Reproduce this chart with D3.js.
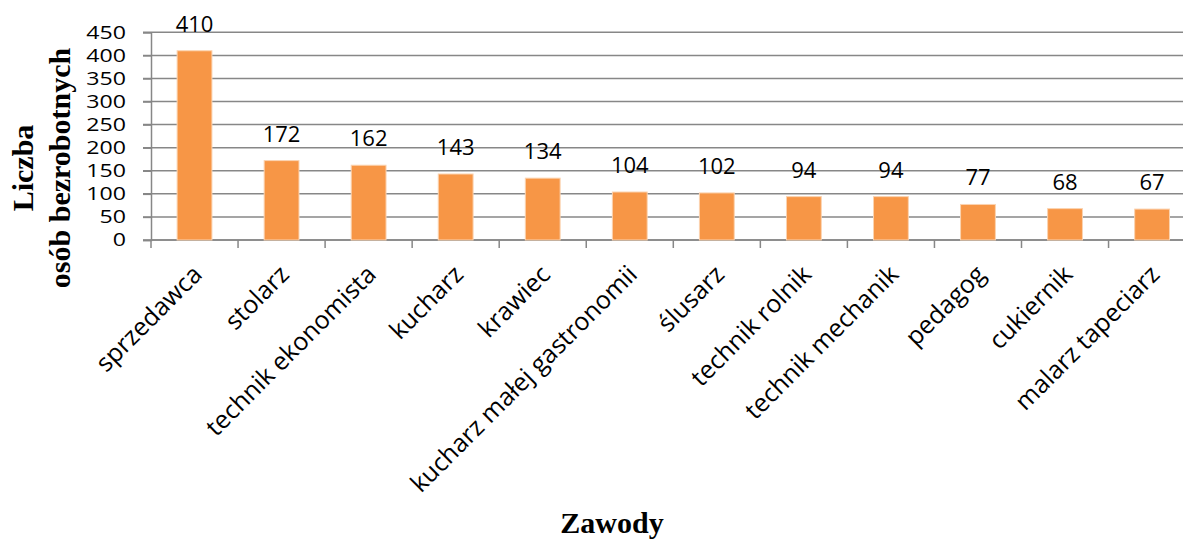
<!DOCTYPE html>
<html>
<head>
<meta charset="utf-8">
<script src="https://cdn.jsdelivr.net/npm/d3@7"></script>
<style>
  body { margin: 0; background: #fff; }
  svg { display: block; }
</style>
</head>
<body>
<svg id="chart"></svg>
<script>
// categories and values
const zawody = ["sprzedawca", "stolarz", "technik ekonomista", "kucharz", "krawiec",
  "kucharz małej gastronomii", "ślusarz", "technik rolnik", "technik mechanik",
  "pedagog", "cukiernik", "malarz tapeciarz"];
const liczba = [410, 172, 162, 143, 134, 104, 102, 94, 94, 77, 68, 67];
const yTicks = [0, 50, 100, 150, 200, 250, 300, 350, 400, 450];

const W = 1183, H = 539;
const svg = d3.select("#chart").attr("width", W).attr("height", H);

const sans = "'Open Sans', 'Noto Sans', sans-serif";
const serif = "'Liberation Serif', 'Times New Roman', serif";
const gridColor = "#878787";

// plot runs past the right edge of the picture (it was cropped)
const x0 = 151, band = 87.05;
const xScale = d3.scaleBand()
  .domain(zawody)
  .range([x0, x0 + band * zawody.length])
  .paddingInner(0.6)
  .paddingOuter(0.3);
const yScale = d3.scaleLinear()
  .domain([0, 450])
  .range([240, 32.3]);

// horizontal gridlines
svg.append("g")
  .selectAll("line")
  .data(yTicks)
  .enter()
  .append("line")
  .attr("x1", x0 - 8)
  .attr("x2", x0 + band * zawody.length)
  .attr("y1", d => yScale(d))
  .attr("y2", d => yScale(d))
  .attr("stroke", gridColor)
  .attr("stroke-width", 1.5);

// y axis
const yAxis = d3.axisLeft(yScale).tickValues(yTicks).tickSize(8).tickPadding(0);
const gy = svg.append("g")
  .attr("transform", `translate(${x0},0)`)
  .call(yAxis);
gy.select(".domain").attr("stroke", gridColor).attr("stroke-width", 1.5);
gy.selectAll(".tick line").attr("stroke", gridColor).attr("stroke-width", 1.5);
gy.selectAll(".tick text")
  .attr("x", 0)
  .attr("transform", "translate(-25,0) scale(1.25,1)")
  .style("font-family", sans)
  .style("font-size", "18.5px")
  .attr("fill", "#000");

// x axis: ticks between categories
const gx = svg.append("g")
  .attr("transform", `translate(0,${yScale(0)})`);
gx.append("line")
  .attr("x1", x0).attr("x2", x0 + band * zawody.length)
  .attr("stroke", gridColor).attr("stroke-width", 1.5);
gx.selectAll(".sep")
  .data(d3.range(zawody.length + 1))
  .enter()
  .append("line")
  .attr("class", "sep")
  .attr("x1", i => x0 + i * band)
  .attr("x2", i => x0 + i * band)
  .attr("y1", 0).attr("y2", 8)
  .attr("stroke", gridColor).attr("stroke-width", 1.5);

// bars
svg.append("g")
  .selectAll("rect")
  .data(zawody)
  .enter()
  .append("rect")
  .attr("x", d => xScale(d))
  .attr("y", (d, i) => yScale(liczba[i]))
  .attr("width", xScale.bandwidth())
  .attr("height", (d, i) => yScale(0) - yScale(liczba[i]))
  .attr("fill", "#F79646")
  .attr("stroke", "#FBD3B0")
  .attr("stroke-width", 1);

// value labels
svg.append("g")
  .selectAll("text")
  .data(zawody)
  .enter()
  .append("text")
  .attr("x", d => xScale(d) + xScale.bandwidth() / 2)
  .attr("y", (d, i) => yScale(liczba[i]) - 19)
  .attr("text-anchor", "middle")
  .style("font-family", sans)
  .style("font-size", "22px")
  .text((d, i) => liczba[i]);

// category labels, rotated
svg.append("g")
  .selectAll("text")
  .data(zawody)
  .enter()
  .append("text")
  .attr("transform", d => `translate(${xScale(d) + xScale.bandwidth() / 2 + 9},${yScale(0) + 36}) rotate(-45)`)
  .attr("text-anchor", "end")
  .style("font-family", sans)
  .style("font-size", "25px")
  .text(d => d);

// axis titles
svg.append("text")
  .attr("transform", "translate(612,533)")
  .attr("text-anchor", "middle")
  .style("font-family", serif)
  .style("font-weight", "bold")
  .style("font-size", "30px")
  .text("Zawody");

const yTitle = svg.append("text")
  .attr("transform", "translate(0,168) rotate(-90)")
  .attr("text-anchor", "middle")
  .style("font-family", serif)
  .style("font-weight", "bold")
  .style("font-size", "30px");
yTitle.append("tspan").attr("x", 0).attr("y", 33).text("Liczba");
yTitle.append("tspan").attr("x", 0).attr("y", 70).text("osób bezrobotnych");
</script>
</body>
</html>
